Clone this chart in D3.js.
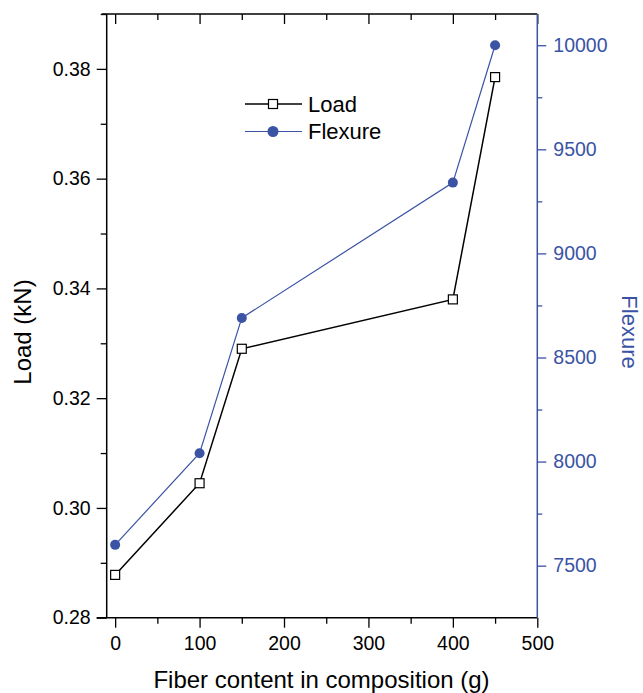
<!DOCTYPE html>
<html>
<head>
<meta charset="utf-8">
<script src="https://cdn.jsdelivr.net/npm/d3@7"></script>
<style>
  body { margin: 0; background: #fff; }
</style>
</head>
<body>
<div id="chart"></div>
<script>
// data
const fiber = [0, 100, 150, 400, 450];
const load = [0.2878, 0.3045, 0.3290, 0.3380, 0.3785];
const flexure = [7600, 8040, 8690, 9340, 10000];
const xTicks = [0, 100, 200, 300, 400, 500];
const loadTicks = [0.28, 0.30, 0.32, 0.34, 0.36, 0.38];
const flexTicks = [7500, 8000, 8500, 9000, 9500, 10000];

// constants
const width = 643;
const height = 693;
const plotLeft = 106.7, plotRight = 537.3, plotTop = 14, plotBottom = 617.7;
const blue = `#3A53A4`;
const font = `Arial, "Liberation Sans", sans-serif`;
const tickFont = `19.5px`;
const titleFont = `24px`;

const xScale = d3.scaleLinear().domain([-10, 500]).range([plotLeft, plotRight]);
const yLoad = d3.scaleLinear().domain([0.28, 0.39]).range([plotBottom, plotTop]);
const yFlex = d3.scaleLinear().domain([7250, 10150]).range([plotBottom, plotTop]);

const svg = d3.select(`#chart`).append(`svg`)
    .attr(`width`, width)
    .attr(`height`, height)
    .style(`font-family`, font);

// bottom axis
const xAxis = svg.append(`g`)
    .attr(`transform`, `translate(0,${plotBottom})`)
    .call(d3.axisBottom(xScale).tickValues(xTicks).tickSize(10).tickPadding(8).tickFormat(d3.format(`d`)));
xAxis.select(`.domain`).remove();
xAxis.selectAll(`.tick line`).attr(`stroke-width`, 1.3);
xAxis.selectAll(`.tick text`).style(`font-size`, tickFont).style(`font-family`, font).attr(`fill`, `#000`);
svg.append(`g`)
    .attr(`transform`, `translate(0,${plotBottom})`)
    .call(d3.axisBottom(xScale).tickValues(d3.range(50, 500, 100)).tickSize(6).tickFormat(``))
    .call(g => g.select(`.domain`).remove())
    .call(g => g.selectAll(`.tick line`).attr(`stroke-width`, 1.3));

// top axis (ticks inside)
svg.append(`g`)
    .attr(`transform`, `translate(0,${plotTop})`)
    .call(d3.axisTop(xScale).tickValues(xTicks).tickSize(-10).tickFormat(``))
    .call(g => g.select(`.domain`).remove())
    .call(g => g.selectAll(`.tick line`).attr(`stroke-width`, 1.3));
svg.append(`g`)
    .attr(`transform`, `translate(0,${plotTop})`)
    .call(d3.axisTop(xScale).tickValues(d3.range(50, 500, 100)).tickSize(-6).tickFormat(``))
    .call(g => g.select(`.domain`).remove())
    .call(g => g.selectAll(`.tick line`).attr(`stroke-width`, 1.3));

// left axis
const yAxisL = svg.append(`g`)
    .attr(`transform`, `translate(${plotLeft},0)`)
    .call(d3.axisLeft(yLoad).tickValues(loadTicks).tickSize(10).tickPadding(6).tickFormat(d3.format(`.2f`)));
yAxisL.select(`.domain`).remove();
yAxisL.selectAll(`.tick line`).attr(`stroke-width`, 1.3);
yAxisL.selectAll(`.tick text`).style(`font-size`, tickFont).style(`font-family`, font).attr(`fill`, `#000`);
svg.append(`g`)
    .attr(`transform`, `translate(${plotLeft},0)`)
    .call(d3.axisLeft(yLoad).tickValues(d3.range(0.29, 0.39, 0.02)).tickSize(6).tickFormat(``))
    .call(g => g.select(`.domain`).remove())
    .call(g => g.selectAll(`.tick line`).attr(`stroke-width`, 1.3));

// right axis
const yAxisR = svg.append(`g`)
    .attr(`transform`, `translate(${plotRight},0)`)
    .call(d3.axisRight(yFlex).tickValues(flexTicks).tickSize(9).tickPadding(7).tickFormat(d3.format(`d`)));
yAxisR.select(`.domain`).remove();
yAxisR.selectAll(`.tick line`).attr(`stroke`, blue).attr(`stroke-width`, 1.3);
yAxisR.selectAll(`.tick text`).style(`font-size`, tickFont).style(`font-family`, font).attr(`fill`, blue);
svg.append(`g`)
    .attr(`transform`, `translate(${plotRight},0)`)
    .call(d3.axisRight(yFlex).tickValues(d3.range(7750, 10150, 500)).tickSize(5).tickFormat(``))
    .call(g => g.select(`.domain`).remove())
    .call(g => g.selectAll(`.tick line`).attr(`stroke`, blue).attr(`stroke-width`, 1.3));

// frame
svg.append(`line`).attr(`x1`, plotLeft - 5).attr(`x2`, plotRight).attr(`y1`, plotTop).attr(`y2`, plotTop)
    .attr(`stroke`, `#000`).attr(`stroke-width`, 1.5);
svg.append(`line`).attr(`x1`, plotLeft - 10).attr(`x2`, plotRight).attr(`y1`, plotBottom).attr(`y2`, plotBottom)
    .attr(`stroke`, `#000`).attr(`stroke-width`, 1.5);
svg.append(`line`).attr(`x1`, plotLeft).attr(`x2`, plotLeft).attr(`y1`, plotTop).attr(`y2`, plotBottom)
    .attr(`stroke`, `#000`).attr(`stroke-width`, 1.5);
svg.append(`line`).attr(`x1`, plotRight).attr(`x2`, plotRight).attr(`y1`, plotTop).attr(`y2`, plotBottom)
    .attr(`stroke`, blue).attr(`stroke-width`, 1.5);

// axis titles
svg.append(`text`)
    .attr(`x`, 321.5)
    .attr(`y`, 688)
    .attr(`text-anchor`, `middle`)
    .style(`font-size`, titleFont)
    .text(`Fiber content in composition (g)`);
svg.append(`text`)
    .attr(`transform`, `translate(31,332) rotate(-90)`)
    .attr(`text-anchor`, `middle`)
    .style(`font-size`, titleFont)
    .text(`Load (kN)`);
svg.append(`text`)
    .attr(`transform`, `translate(622,332) rotate(90)`)
    .attr(`text-anchor`, `middle`)
    .attr(`fill`, blue)
    .style(`font-size`, `22px`)
    .text(`Flexure`);

// series
const pts = fiber.map((f, i) => ({x: f, load: load[i], flex: flexure[i]}));

svg.append(`path`)
    .datum(pts)
    .attr(`fill`, `none`)
    .attr(`stroke`, blue)
    .attr(`stroke-width`, 1.2)
    .attr(`d`, d3.line().x(d => xScale(d.x)).y(d => yFlex(d.flex)));

svg.append(`path`)
    .datum(pts)
    .attr(`fill`, `none`)
    .attr(`stroke`, `#000`)
    .attr(`stroke-width`, 1.5)
    .attr(`d`, d3.line().x(d => xScale(d.x)).y(d => yLoad(d.load)));

svg.selectAll(`.flex`)
    .data(pts)
    .join(`circle`)
    .attr(`class`, `flex`)
    .attr(`cx`, d => xScale(d.x))
    .attr(`cy`, d => yFlex(d.flex))
    .attr(`r`, 5)
    .attr(`fill`, blue);

svg.selectAll(`.load`)
    .data(pts)
    .join(`rect`)
    .attr(`class`, `load`)
    .attr(`x`, d => xScale(d.x) - 4.5)
    .attr(`y`, d => yLoad(d.load) - 4.5)
    .attr(`width`, 9)
    .attr(`height`, 9)
    .attr(`fill`, `#fff`)
    .attr(`stroke`, `#000`)
    .attr(`stroke-width`, 1.2);

// legend
const legend = svg.append(`g`);
legend.append(`line`).attr(`x1`, 245).attr(`x2`, 302).attr(`y1`, 104).attr(`y2`, 104)
    .attr(`stroke`, `#000`).attr(`stroke-width`, 1.5);
legend.append(`rect`).attr(`x`, 268.5).attr(`y`, 99.5).attr(`width`, 9).attr(`height`, 9)
    .attr(`fill`, `#fff`).attr(`stroke`, `#000`).attr(`stroke-width`, 1.2);
legend.append(`text`).attr(`x`, 308).attr(`y`, 111.7).style(`font-size`, `22px`).text(`Load`);
legend.append(`line`).attr(`x1`, 245).attr(`x2`, 302).attr(`y1`, 131.5).attr(`y2`, 131.5)
    .attr(`stroke`, blue).attr(`stroke-width`, 1.2);
legend.append(`circle`).attr(`cx`, 273).attr(`cy`, 131.5).attr(`r`, 5.5).attr(`fill`, blue);
legend.append(`text`).attr(`x`, 308).attr(`y`, 139.3).style(`font-size`, `22px`).text(`Flexure`);
</script>
</body>
</html>
